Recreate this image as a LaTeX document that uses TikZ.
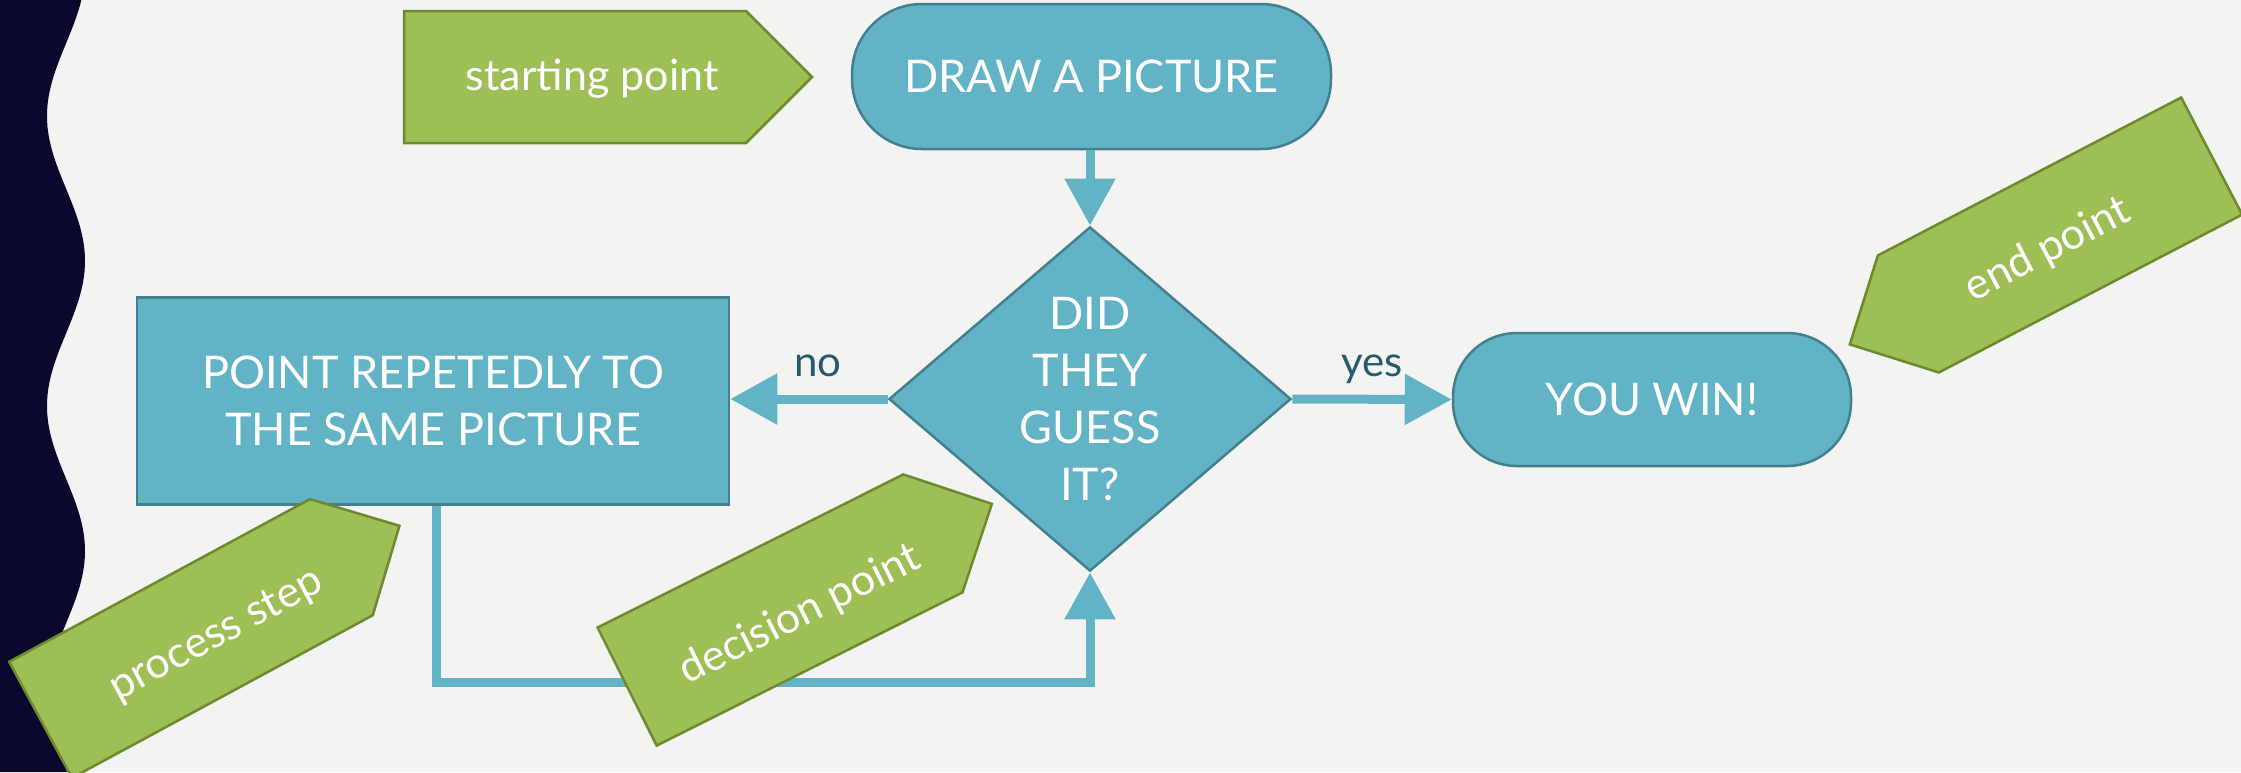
\documentclass[tikz,border=0pt]{standalone}
\usepackage{fontspec}
\setmainfont{Lato}
\usetikzlibrary{arrows.meta,shapes.geometric}
\definecolor{bg}{RGB}{243,243,241}
\definecolor{navy}{RGB}{10,8,44}
\definecolor{bluefill}{RGB}{99,179,198}
\definecolor{blueedge}{RGB}{66,128,142}
\definecolor{gfill}{RGB}{158,190,86}
\definecolor{gedge}{RGB}{110,138,48}
\definecolor{lbl}{RGB}{36,90,106}
\begin{document}
\begin{tikzpicture}[x=1pt,y=-1pt,
  flow/.style={fill=bluefill, draw=blueedge, line width=2.5pt, text=white,
    font=\fontsize{45}{57}\selectfont, align=center, inner sep=0pt},
  term/.style={flow, rounded corners=#1},
  conn/.style={draw=bluefill, line width=9pt, -{Triangle[width=49pt,length=47pt]}},
  arrlabel/.style={text=lbl, font=\fontsize{42}{50}\selectfont, inner sep=0pt},
  gshape/.style={fill=gfill, draw=gedge, line width=2.5pt, line join=miter},
  gtext/.style={text=white, font=\fontsize{43}{50}\selectfont, inner sep=0pt}]
\useasboundingbox (0,0) rectangle (2241,772);
\fill[bg] (0,0) rectangle (2241,772);
% dark wavy band
\fill[navy] (0,0) -- plot[domain=0:772, samples=160] ({66+19*cos(1.2414*(\x-261))}, \x) -- (0,772) -- cycle;

% flow nodes
\node[term=70pt, minimum width=479pt, minimum height=145pt] (drawp) at (1091.5,76.5) {DRAW A PICTURE};
\node[flow, shape=diamond, minimum width=402pt, minimum height=332pt] (dia) at (1090,399) {DID\\THEY\\GUESS\\IT?};
\node[flow, minimum width=592pt, minimum height=207pt] (proc) at (433,401) {POINT REPETEDLY TO\\THE SAME PICTURE};
\node[term=64pt, minimum width=398pt, minimum height=133pt] (win) at (1652,399.5) {YOU WIN!};

% connectors
\coordinate (loopc) at (1090,682);
\draw[conn] (drawp.south -| dia.north) -- (dia.north);
\draw[conn] (dia.west) -- (proc.east |- dia.west);
\draw[conn] (dia.east) -- (win.west);
\draw[conn] ([xshift=3pt]proc.south) |- (loopc) -- (dia.south);
\node[arrlabel] (nolbl) at (818,366) {no};
\node[arrlabel] (yeslbl) at (1372,369) {yes};

% green labels
\begin{scope}[shift={(575,77)}]
  \draw[gshape] (-171,-66) -- (171,-66) -- (237,0) -- (171,66) -- (-171,66) -- cycle;
\end{scope}
\node[gtext] (startlbl) at (592,79) {starting point};

\begin{scope}[shift={(2060,235)}, rotate=27.5]
  \draw[gshape] (171,-66) -- (-171,-66) -- (-237,0) -- (-171,66) -- (171,66) -- cycle;
\end{scope}
\node[gtext, rotate=27.5] (endlbl) at (2048,250) {end point};

\begin{scope}[shift={(780,610)}, rotate=26.6]
  \draw[gshape] (-171,-66) -- (171,-66) -- (237,0) -- (171,66) -- (-171,66) -- cycle;
\end{scope}
\node[gtext, rotate=26.6] (declbl) at (800,615) {decision point};

\begin{scope}[shift={(191,638.5)}, rotate=28.4]
  \draw[gshape] (-171,-66) -- (171,-66) -- (237,0) -- (171,66) -- (-171,66) -- cycle;
\end{scope}
\node[gtext, rotate=28.4] (proclbl) at (217,636) {process step};
\end{tikzpicture}
\end{document}
